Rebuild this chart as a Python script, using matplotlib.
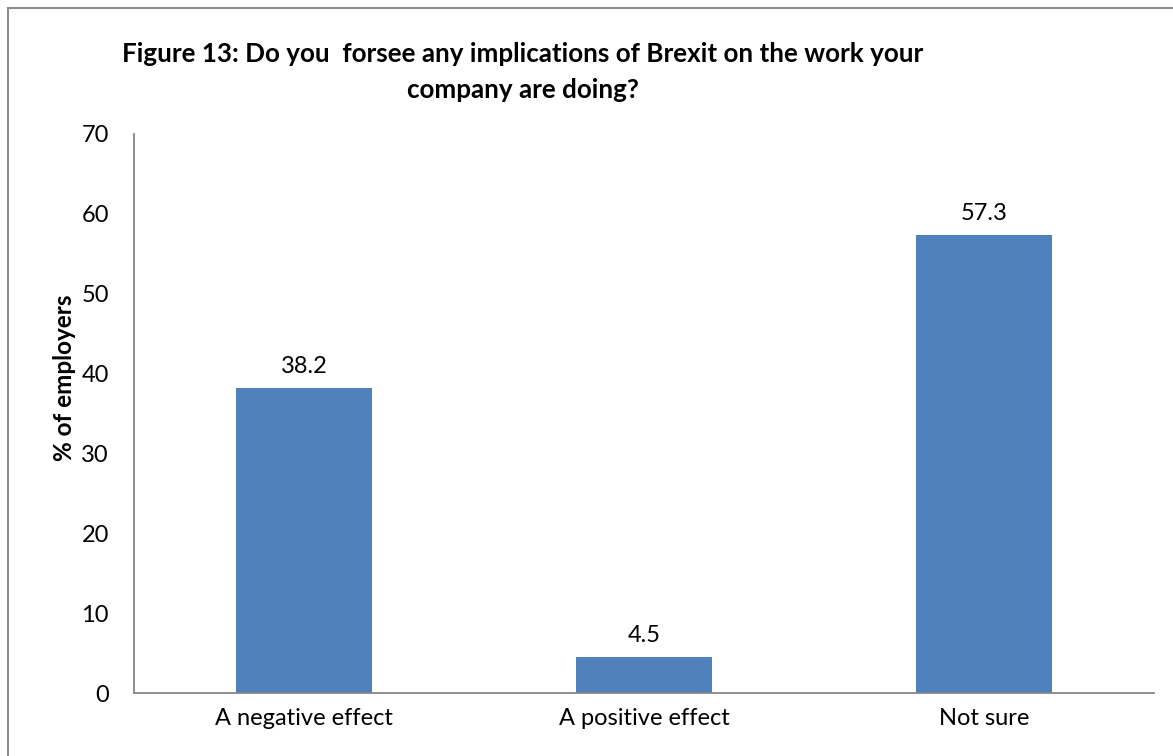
import matplotlib
matplotlib.use("Agg")
import matplotlib.pyplot as plt
from matplotlib.patches import Rectangle

# Survey responses, % of employers
categories = ["A negative effect", "A positive effect", "Not sure"]
values = [38.2, 4.5, 57.3]
yticks = [0, 10, 20, 30, 40, 50, 60, 70]

plt.rcParams['font.family'] = ['Lato', 'DejaVu Sans']

W, H = 1173, 756
fig = plt.figure(figsize=(W / 100, H / 100), dpi=100)
ax = fig.add_axes([134 / W, 1 - 693 / H, (1154 - 134) / W, (693 - 134) / H])

bar_color = "#4F81BD"
x = range(len(categories))
bars = ax.bar(x, values, width=0.4, color=bar_color, zorder=2)

# value labels above the bars
for xi, v in zip(x, values):
    ax.annotate(f"{v:.1f}", (xi, v), xytext=(0, 8), textcoords="offset points",
                ha="center", va="bottom", fontsize=17, color="black")

ax.set_xlim(-0.5, len(categories) - 0.5)
ax.set_ylim(0, 70)
ax.set_yticks(yticks)
ax.set_xticks(list(x))
ax.set_xticklabels(categories, fontsize=17)
ax.tick_params(axis="y", length=0, pad=18, labelsize=17)
ax.tick_params(axis="x", length=0, pad=11)

for side in ["top", "right"]:
    ax.spines[side].set_visible(False)
for side in ["left", "bottom"]:
    ax.spines[side].set_color("#868686")
    ax.spines[side].set_linewidth(1.3)

fig.text(64 / W, 1 - 378 / H, "% of employers", rotation=90, ha="center",
         va="center", fontsize=17.5, fontweight="bold")

fig.text(523 / W, 1 - 72 / H,
         "Figure 13: Do you  forsee any implications of Brexit on the work your\ncompany are doing?",
         ha="center", va="center", fontsize=18.7, fontweight="bold",
         linespacing=1.6, multialignment="center")

# chart area frame
fig.patches.append(Rectangle((8 / W, -0.1), 1.2, 1 - 8 / H + 0.1,
                             transform=fig.transFigure, fill=False,
                             edgecolor="#8C8C8C", linewidth=1.5))

fig.savefig("out.png", dpi=100, facecolor="white")
